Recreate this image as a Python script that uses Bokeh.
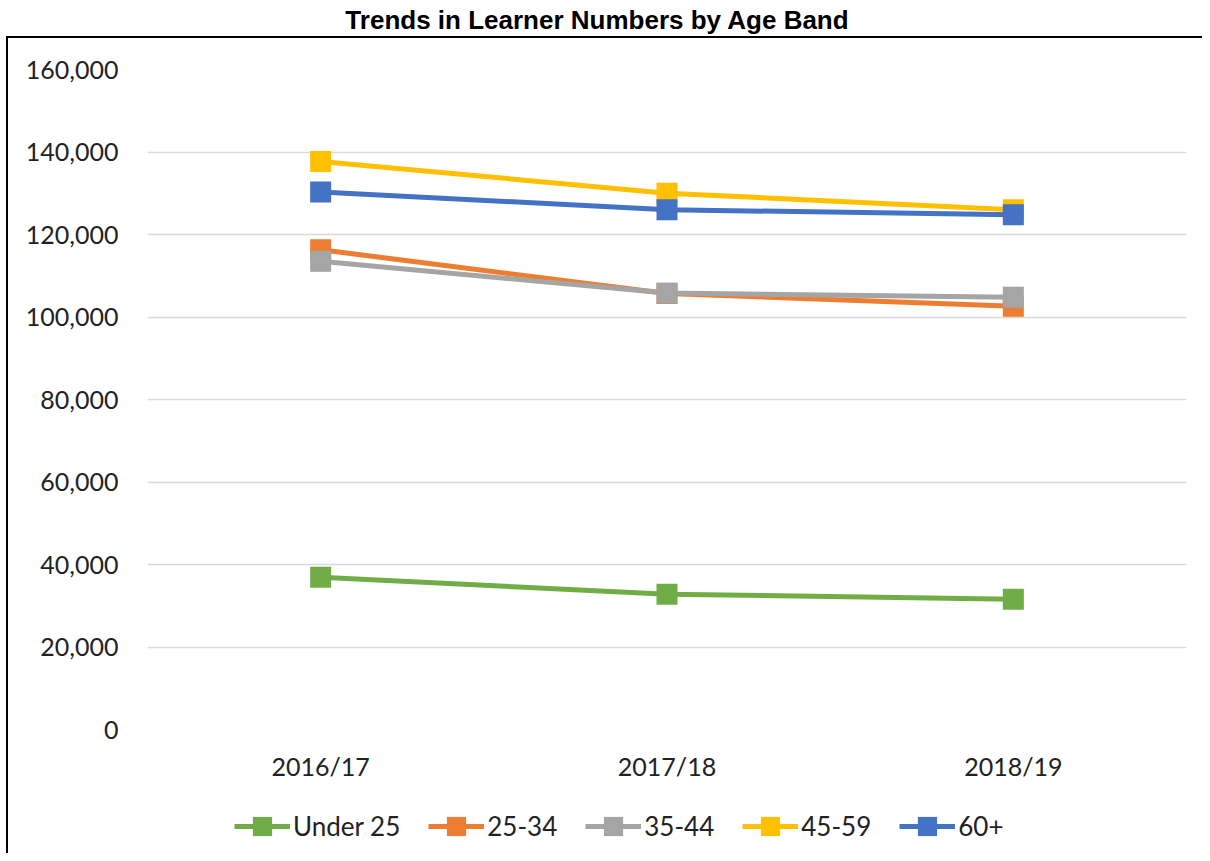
from bokeh.plotting import figure
from bokeh.models import (FactorRange, Range1d, FixedTicker, NumeralTickFormatter,
                          Legend, LegendItem, Div)
from bokeh.layouts import column
from bokeh.embed import file_html
from bokeh.resources import INLINE

years = ["2016/17", "2017/18", "2018/19"]
series_names = ["Under 25", "25-34", "35-44", "45-59", "60+"]
under_25 = [36900, 32800, 31600]
age_25_34 = [116300, 105700, 102600]
age_35_44 = [113500, 105800, 104800]
age_45_59 = [137700, 130000, 126000]
age_60_plus = [130300, 126000, 124800]
y_ticks = [0, 20000, 40000, 60000, 80000, 100000, 120000, 140000, 160000]

values = [under_25, age_25_34, age_35_44, age_45_59, age_60_plus]
colors = ["#70AD47", "#ED7D31", "#A5A5A5", "#FFC000", "#4472C4"]

TICK_FONT = "Lato"
W = 1194

title = Div(text="Trends in Learner Numbers by Age Band", width=W, height=36,
            margin=(0, 0, 0, 0),
            styles={"font-family": "'Liberation Sans', Arial, sans-serif",
                    "font-weight": "bold", "font-size": "26px", "color": "#000000",
                    "text-align": "center", "width": f"{W}px", "line-height": "41px",
                    "display": "block", "overflow": "visible"})

# main chart
p = figure(x_range=FactorRange(*years, range_padding=0), y_range=Range1d(0, 160000),
           width=W, height=752, output_backend="svg", toolbar_location=None,
           min_border_left=139, min_border_right=16, min_border_top=31,
           min_border_bottom=61, margin=(0, 0, 0, 0))
p.outline_line_color = None
p.background_fill_color = "white"
p.border_fill_color = "white"

p.xgrid.grid_line_color = None
p.ygrid.grid_line_color = "#D9D9D9"
p.ygrid.grid_line_width = 1.5

p.yaxis.ticker = FixedTicker(ticks=y_ticks)
p.yaxis.formatter = NumeralTickFormatter(format="0,0")
for ax in (p.xaxis[0], p.yaxis[0]):
    ax.axis_line_color = None
    ax.major_tick_line_color = None
    ax.minor_tick_line_color = None
    ax.major_label_text_font = TICK_FONT
    ax.major_label_text_font_size = "25px"
    ax.major_label_text_color = "#222222"
p.yaxis.major_label_standoff = 23
p.xaxis.major_label_standoff = 15

for vals, col in zip(values, colors):
    p.line(years, vals, line_color=col, line_width=5)
    p.scatter(years, vals, marker="square", size=21, fill_color=col,
              line_color=col, line_width=0)

# legend strip below the chart (same series, drawn only as legend glyphs)
lg = figure(x_range=FactorRange(*years, range_padding=0), y_range=Range1d(-2, -1),
            width=W, height=63, output_backend="svg", toolbar_location=None,
            x_axis_type=None, y_axis_type=None, min_border=0, margin=(0, 0, 0, 0))
lg.outline_line_color = None
lg.grid.grid_line_color = None
lg.background_fill_color = "white"
lg.border_fill_color = "white"

items = []
for name, vals, col in zip(series_names, values, colors):
    ln = lg.line(years, vals, line_color=col, line_width=5)
    sc = lg.scatter(years, vals, marker="square", size=21, fill_color=col,
                    line_color=col, line_width=0)
    items.append(LegendItem(label=name, renderers=[ln, sc]))

legend = Legend(items=items, orientation="horizontal", location=(87, 3),
                glyph_width=56, glyph_height=48, label_standoff=3, spacing=28,
                label_text_font=TICK_FONT, label_text_font_size="26px",
                label_text_color="#222222", border_line_color=None,
                background_fill_alpha=0, padding=0, margin=0)
lg.add_layout(legend, "center")

body = column(p, lg, margin=(0, 0, 0, 6), spacing=0,
              styles={"border-left": "2px solid #000000", "border-top": "2px solid #000000"})
layout = column(title, body, margin=(0, 0, 0, 0), spacing=0)
open("out.html", "w").write(file_html(layout, INLINE))
